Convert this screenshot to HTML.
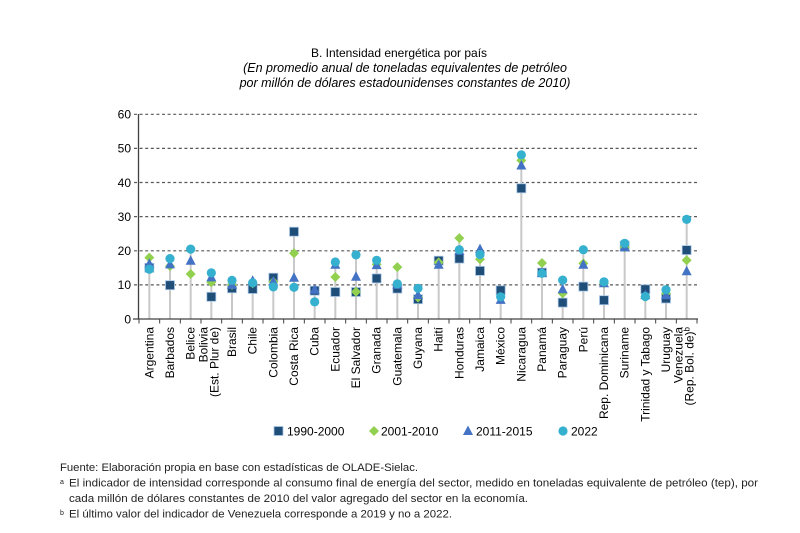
<!DOCTYPE html>
<html><head><meta charset="utf-8"><style>
html,body{margin:0;padding:0;background:#fff;}
svg{display:block;}
text{font-family:"Liberation Sans",Arial,sans-serif;}
</style></head><body>
<svg width="800" height="533" viewBox="0 0 800 533" xmlns="http://www.w3.org/2000/svg">
<defs>
<rect id="sq" x="-4.5" y="-4.5" width="9" height="9" fill="#1f4e79" stroke="#a9c7e6" stroke-width="0.8"/>
<path id="dm" d="M0,-5 L5,0 L0,5 L-5,0Z" fill="#92d050"/>
<path id="tr" d="M0,-5.5 L5,4 L-5,4Z" fill="#4472c4"/>
<circle id="ci" r="4.6" fill="#35b1cf"/>
</defs>
<rect width="800" height="533" fill="#fff"/>
<!-- Title -->
<text x="399" y="57" font-size="12" text-anchor="middle" fill="#000">B. Intensidad energética por país</text>
<text x="405" y="72" font-size="12.5" font-style="italic" text-anchor="middle" fill="#000">(En promedio anual de toneladas equivalentes de petróleo</text>
<text x="405" y="87" font-size="12.5" font-style="italic" text-anchor="middle" fill="#000">por millón de dólares estadounidenses constantes de 2010)</text>
<!-- gridlines -->
<g stroke="#595959" stroke-width="1.2" stroke-dasharray="3,2.6">
<line x1="134" y1="284.9" x2="697" y2="284.9"/>
<line x1="134" y1="250.8" x2="697" y2="250.8"/>
<line x1="134" y1="216.6" x2="697" y2="216.6"/>
<line x1="134" y1="182.5" x2="697" y2="182.5"/>
<line x1="134" y1="148.4" x2="697" y2="148.4"/>
<line x1="134" y1="114.3" x2="697" y2="114.3"/>
</g>
<!-- y labels -->
<g font-size="12" text-anchor="end" fill="#000">
<text x="131" y="323.3">0</text>
<text x="131" y="289.2">10</text>
<text x="131" y="255.1">20</text>
<text x="131" y="220.9">30</text>
<text x="131" y="186.8">40</text>
<text x="131" y="152.7">50</text>
<text x="131" y="118.6">60</text>
</g>
<!-- stems -->
<g stroke="#c9c9c9" stroke-width="2">
<line x1="149.33" y1="319" x2="149.33" y2="257.6"/>
<line x1="170" y1="319" x2="170" y2="258.6"/>
<line x1="190.67" y1="319" x2="190.67" y2="249.1"/>
<line x1="211.33" y1="319" x2="211.33" y2="272.9"/>
<line x1="232" y1="319" x2="232" y2="280.4"/>
<line x1="252.67" y1="319" x2="252.67" y2="280.8"/>
<line x1="273.33" y1="319" x2="273.33" y2="277.7"/>
<line x1="294" y1="319" x2="294" y2="231.7"/>
<line x1="314.67" y1="319" x2="314.67" y2="289.7"/>
<line x1="335.33" y1="319" x2="335.33" y2="262"/>
<line x1="356" y1="319" x2="356" y2="254.9"/>
<line x1="376.67" y1="319" x2="376.67" y2="260.3"/>
<line x1="397.33" y1="319" x2="397.33" y2="267.1"/>
<line x1="418" y1="319" x2="418" y2="288.3"/>
<line x1="438.67" y1="319" x2="438.67" y2="260.7"/>
<line x1="459.33" y1="319" x2="459.33" y2="238.1"/>
<line x1="480" y1="319" x2="480" y2="249.1"/>
<line x1="500.67" y1="319" x2="500.67" y2="290.3"/>
<line x1="521.33" y1="319" x2="521.33" y2="154.9"/>
<line x1="542" y1="319" x2="542" y2="263"/>
<line x1="562.67" y1="319" x2="562.67" y2="280.1"/>
<line x1="583.33" y1="319" x2="583.33" y2="249.7"/>
<line x1="604" y1="319" x2="604" y2="281.8"/>
<line x1="624.67" y1="319" x2="624.67" y2="243.3"/>
<line x1="645.33" y1="319" x2="645.33" y2="289.3"/>
<line x1="666" y1="319" x2="666" y2="289.7"/>
<line x1="686.67" y1="319" x2="686.67" y2="219.4"/>
</g>
<!-- axes -->
<line x1="138.5" y1="114" x2="138.5" y2="319.5" stroke="#404040" stroke-width="1.3"/>
<line x1="133" y1="319" x2="698" y2="319" stroke="#404040" stroke-width="1.3"/>
<line x1="138.5" y1="321.5" x2="698" y2="321.5" stroke="#404040" stroke-width="4" stroke-dasharray="1,19.667"/>
<!-- squares -->
<g>
<use href="#sq" x="149.33" y="267.8"/>
<use href="#sq" x="170" y="285.2"/>
<use href="#sq" x="211.33" y="296.8"/>
<use href="#sq" x="232" y="288.3"/>
<use href="#sq" x="252.67" y="289"/>
<use href="#sq" x="273.33" y="277.7"/>
<use href="#sq" x="294" y="231.7"/>
<use href="#sq" x="314.67" y="290.7"/>
<use href="#sq" x="335.33" y="292"/>
<use href="#sq" x="356" y="292"/>
<use href="#sq" x="376.67" y="278.4"/>
<use href="#sq" x="397.33" y="288.6"/>
<use href="#sq" x="418" y="299.2"/>
<use href="#sq" x="438.67" y="260.7"/>
<use href="#sq" x="459.33" y="258.6"/>
<use href="#sq" x="480" y="270.9"/>
<use href="#sq" x="500.67" y="290.3"/>
<use href="#sq" x="521.33" y="188.3"/>
<use href="#sq" x="542" y="272.6"/>
<use href="#sq" x="562.67" y="302.6"/>
<use href="#sq" x="583.33" y="286.6"/>
<use href="#sq" x="604" y="300.2"/>
<use href="#sq" x="624.67" y="245.6"/>
<use href="#sq" x="645.33" y="289.3"/>
<use href="#sq" x="666" y="298.5"/>
<use href="#sq" x="686.67" y="250.1"/>
</g>
<!-- diamonds -->
<g>
<use href="#dm" x="149.33" y="257.6"/>
<use href="#dm" x="170" y="266.1"/>
<use href="#dm" x="190.67" y="274"/>
<use href="#dm" x="211.33" y="282.2"/>
<use href="#dm" x="232" y="284.9"/>
<use href="#dm" x="252.67" y="283.2"/>
<use href="#dm" x="273.33" y="281.8"/>
<use href="#dm" x="294" y="253.2"/>
<use href="#dm" x="335.33" y="277"/>
<use href="#dm" x="356" y="291.7"/>
<use href="#dm" x="376.67" y="264.4"/>
<use href="#dm" x="397.33" y="267.1"/>
<use href="#dm" x="418" y="297.5"/>
<use href="#dm" x="438.67" y="262.4"/>
<use href="#dm" x="459.33" y="238.1"/>
<use href="#dm" x="480" y="259.3"/>
<use href="#dm" x="521.33" y="160.4"/>
<use href="#dm" x="542" y="263"/>
<use href="#dm" x="562.67" y="293.4"/>
<use href="#dm" x="583.33" y="263.4"/>
<use href="#dm" x="604" y="283.2"/>
<use href="#dm" x="624.67" y="247.4"/>
<use href="#dm" x="645.33" y="296.8"/>
<use href="#dm" x="666" y="293.4"/>
<use href="#dm" x="686.67" y="260.3"/>
</g>
<!-- triangles -->
<g>
<use href="#tr" x="149.33" y="263.7"/>
<use href="#tr" x="170" y="264.4"/>
<use href="#tr" x="190.67" y="260.7"/>
<use href="#tr" x="211.33" y="277.4"/>
<use href="#tr" x="232" y="284.9"/>
<use href="#tr" x="252.67" y="280.8"/>
<use href="#tr" x="273.33" y="281.5"/>
<use href="#tr" x="294" y="277.7"/>
<use href="#tr" x="314.67" y="289.7"/>
<use href="#tr" x="335.33" y="264.8"/>
<use href="#tr" x="356" y="276.7"/>
<use href="#tr" x="376.67" y="265.1"/>
<use href="#tr" x="397.33" y="284.9"/>
<use href="#tr" x="418" y="295.1"/>
<use href="#tr" x="438.67" y="264.8"/>
<use href="#tr" x="459.33" y="250.8"/>
<use href="#tr" x="480" y="249.1"/>
<use href="#tr" x="500.67" y="299.9"/>
<use href="#tr" x="521.33" y="165.5"/>
<use href="#tr" x="542" y="272.9"/>
<use href="#tr" x="562.67" y="289.3"/>
<use href="#tr" x="583.33" y="264.8"/>
<use href="#tr" x="604" y="283.2"/>
<use href="#tr" x="624.67" y="247.4"/>
<use href="#tr" x="645.33" y="295.1"/>
<use href="#tr" x="666" y="295.1"/>
<use href="#tr" x="686.67" y="271.2"/>
</g>
<!-- circles -->
<g>
<use href="#ci" x="149.33" y="269.2"/>
<use href="#ci" x="170" y="258.6"/>
<use href="#ci" x="190.67" y="249.1"/>
<use href="#ci" x="211.33" y="272.9"/>
<use href="#ci" x="232" y="280.4"/>
<use href="#ci" x="252.67" y="282.8"/>
<use href="#ci" x="273.33" y="286.9"/>
<use href="#ci" x="294" y="287.3"/>
<use href="#ci" x="314.67" y="301.9"/>
<use href="#ci" x="335.33" y="262"/>
<use href="#ci" x="356" y="254.9"/>
<use href="#ci" x="376.67" y="260.3"/>
<use href="#ci" x="397.33" y="283.9"/>
<use href="#ci" x="418" y="288.3"/>
<use href="#ci" x="459.33" y="249.7"/>
<use href="#ci" x="480" y="254.5"/>
<use href="#ci" x="500.67" y="296.8"/>
<use href="#ci" x="521.33" y="154.9"/>
<use href="#ci" x="542" y="273.3"/>
<use href="#ci" x="562.67" y="280.1"/>
<use href="#ci" x="583.33" y="249.7"/>
<use href="#ci" x="604" y="281.8"/>
<use href="#ci" x="624.67" y="243.3"/>
<use href="#ci" x="645.33" y="296.5"/>
<use href="#ci" x="666" y="289.7"/>
<use href="#ci" x="686.67" y="219.4"/>
</g>
<!-- x labels -->
<g font-size="12" text-anchor="end" fill="#000">
<text transform="translate(153.33,327) rotate(-90)">Argentina</text>
<text transform="translate(174,327) rotate(-90)">Barbados</text>
<text transform="translate(194.67,327) rotate(-90)">Belice</text>
<text transform="translate(207.3,327) rotate(-90)">Bolivia</text>
<text transform="translate(218.3,327) rotate(-90)">(Est. Plur de)</text>
<text transform="translate(236,327) rotate(-90)">Brasil</text>
<text transform="translate(256.67,327) rotate(-90)">Chile</text>
<text transform="translate(277.33,327) rotate(-90)">Colombia</text>
<text transform="translate(298,327) rotate(-90)">Costa Rica</text>
<text transform="translate(318.67,327) rotate(-90)">Cuba</text>
<text transform="translate(339.33,327) rotate(-90)">Ecuador</text>
<text transform="translate(360,327) rotate(-90)">El Salvador</text>
<text transform="translate(380.67,327) rotate(-90)">Granada</text>
<text transform="translate(401.33,327) rotate(-90)">Guatemala</text>
<text transform="translate(422,327) rotate(-90)">Guyana</text>
<text transform="translate(442.67,327) rotate(-90)">Haití</text>
<text transform="translate(463.33,327) rotate(-90)">Honduras</text>
<text transform="translate(484,327) rotate(-90)">Jamaica</text>
<text transform="translate(504.67,327) rotate(-90)">México</text>
<text transform="translate(525.33,327) rotate(-90)">Nicaragua</text>
<text transform="translate(546,327) rotate(-90)">Panamá</text>
<text transform="translate(566.67,327) rotate(-90)">Paraguay</text>
<text transform="translate(587.33,327) rotate(-90)">Perú</text>
<text transform="translate(608,327) rotate(-90)">Rep. Dominicana</text>
<text transform="translate(628.67,327) rotate(-90)">Suriname</text>
<text transform="translate(649.33,327) rotate(-90)">Trinidad y Tabago</text>
<text transform="translate(670,327) rotate(-90)">Uruguay</text>
<text transform="translate(682.7,327) rotate(-90)">Venezuela</text>
<text transform="translate(693.7,327) rotate(-90)">(Rep. Bol. de)<tspan font-size="8" dy="-4">b</tspan></text>
</g>
<!-- legend -->
<use href="#sq" x="278.5" y="431"/>
<text x="287" y="435.5" font-size="12" fill="#000">1990-2000</text>
<use href="#dm" x="374" y="431"/>
<text x="381" y="435.5" font-size="12" fill="#000">2001-2010</text>
<use href="#tr" x="468" y="431"/>
<text x="476" y="435.5" font-size="12" fill="#000">2011-2015</text>
<use href="#ci" x="563" y="431"/>
<text x="571" y="435.5" font-size="12" fill="#000">2022</text>
<!-- footnotes -->
<g font-size="11" fill="#222">
<text x="60" y="471" textLength="358" lengthAdjust="spacingAndGlyphs">Fuente: Elaboración propia en base con estadísticas de OLADE-Sielac.</text>
<text x="60" y="484" font-size="7">a</text>
<text x="69" y="486.5" textLength="689" lengthAdjust="spacingAndGlyphs">El indicador de intensidad corresponde al consumo final de energía del sector, medido en toneladas equivalente de petróleo (tep), por</text>
<text x="69" y="502" textLength="459" lengthAdjust="spacingAndGlyphs">cada millón de dólares constantes de 2010 del valor agregado del sector en la economía.</text>
<text x="60" y="515" font-size="7">b</text>
<text x="69" y="517.5" textLength="383" lengthAdjust="spacingAndGlyphs">El último valor del indicador de Venezuela corresponde a 2019 y no a 2022.</text>
</g>
</svg>
</body></html>
